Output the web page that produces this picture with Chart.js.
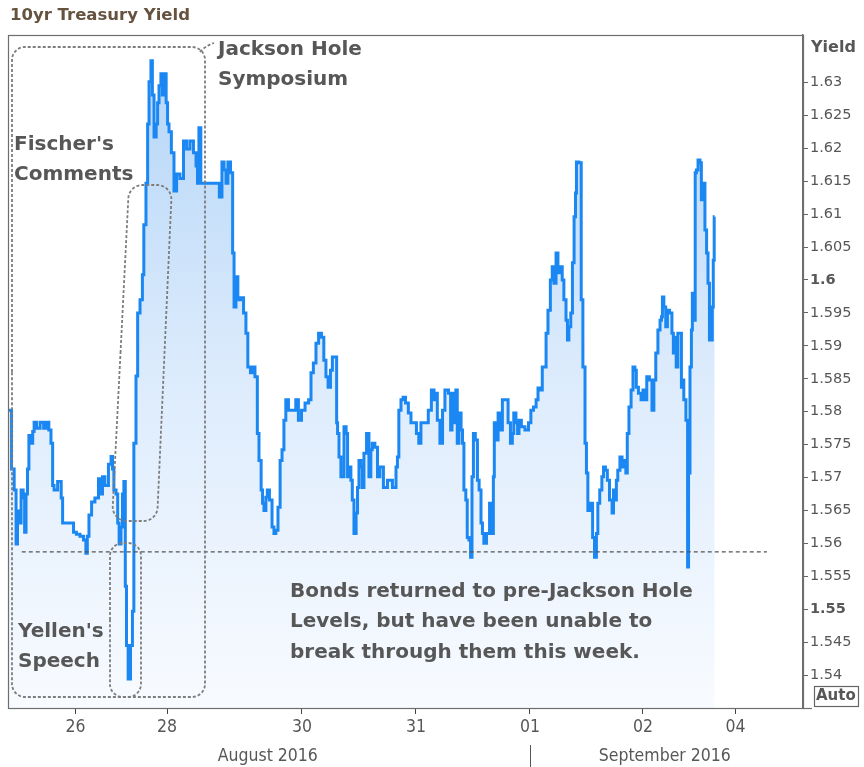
<!DOCTYPE html>
<html>
<head>
<meta charset="utf-8">
<script src="https://cdn.jsdelivr.net/npm/chart.js@4"></script>
<style>
    html, body { margin: 0; padding: 0; background: #fff; }
    #wrap { width: 864px; height: 767px; }
</style>
</head>
<body>
<div id="wrap"><canvas id="yieldChart" width="864" height="767"></canvas></div>
<script>
// trading hours since the first quote (Aug 25), and the 10yr yield at that moment
const hours = [
    0.0, 0.4, 1.1, 1.5, 1.9, 2.1, 2.5, 3.0, 3.4, 3.6, 4.0, 4.2, 4.6, 5.1, 5.3, 5.7, 6.3, 7.2, 7.8, 8.4,
    8.8, 9.3, 9.5, 9.9, 11.0, 11.4, 11.6, 12.4, 13.5, 14.1, 14.7, 15.6, 16.2, 16.6, 16.8, 17.3, 17.9, 18.7, 19.4, 19.8,
    20.0, 20.8, 21.5, 21.9, 22.1, 22.5, 23.0, 23.2, 23.6, 24.0, 24.2, 24.6, 24.8, 25.1, 25.5, 26.1, 26.3, 26.7, 27.2, 27.4,
    28.2, 28.4, 28.8, 29.3, 29.5, 29.9, 30.3, 30.5, 31.0, 31.4, 31.6, 32.0, 32.4, 32.6, 33.1, 33.5, 33.7, 34.1, 34.7, 35.2,
    35.8, 36.6, 37.3, 37.9, 38.7, 39.4, 39.8, 40.0, 40.4, 40.8, 42.5, 44.2, 44.8, 45.3, 45.7, 46.1, 46.5, 47.2, 47.4, 47.8,
    48.2, 48.6, 49.3, 49.9, 50.3, 50.7, 51.4, 51.6, 52.4, 52.6, 53.1, 53.5, 53.7, 54.1, 54.5, 54.7, 55.4, 55.8, 56.2, 56.6,
    57.1, 57.5, 57.9, 58.3, 58.7, 59.4, 60.4, 60.8, 61.5, 62.1, 63.0, 63.6, 64.0, 64.6, 65.1, 65.7, 66.3, 66.7, 67.2, 67.6,
    68.2, 68.4, 69.1, 69.3, 69.5, 69.9, 70.3, 70.5, 71.0, 71.4, 71.6, 72.0, 72.4, 72.6, 73.1, 73.5, 73.7, 74.1, 74.5, 74.7,
    75.2, 75.8, 76.2, 76.6, 76.8, 77.7, 77.9, 78.7, 79.4, 80.4, 81.5, 81.9, 82.1, 82.5, 83.0, 83.4, 84.0, 84.6, 85.1, 85.7,
    86.3, 86.7, 87.2, 88.2, 88.8, 89.5, 89.9, 90.3, 90.5, 91.4, 91.6, 92.4, 93.1, 93.3, 93.7, 94.1, 94.5, 94.7,
    95.2, 95.6, 95.8, 96.2, 96.6, 96.8, 97.3, 97.5, 97.9, 98.1, 98.7, 99.0, 99.4, 99.8, 100.0, 100.4, 101.1, 101.7, 102.1, 102.3,
    102.5, 103.0, 103.4, 104.0, 104.2, 105.1, 105.5, 106.1, 106.3, 106.7, 107.2, 107.4, 107.8, 108.4, 109.3, 109.9, 110.3, 111.0, 111.4, 111.8,
    112.4, 112.6, 113.1, 113.5, 113.9, 114.5, 114.7, 115.2, 115.6, 116.0, 116.6, 116.8, 117.3, 117.7, 117.9, 118.3, 118.7, 119.0, 119.4, 119.6,
    119.8, 120.6, 120.8, 121.3, 121.7, 121.9, 122.3, 123.0, 123.2, 123.8, 124.0, 124.4, 124.8, 125.3, 125.5, 126.1, 126.3, 127.0, 127.4, 127.6,
    128.0, 128.2, 128.6, 129.1, 129.5, 129.9, 130.3, 130.5, 131.0, 131.4, 131.8, 132.2, 132.4, 133.1, 133.5, 133.9, 134.3, 134.7, 135.4, 135.8,
    136.2, 136.6, 137.1, 137.5, 137.7, 137.9, 138.3, 138.7, 139.0, 139.6, 140.0, 140.2, 140.6, 140.8, 141.3, 141.7, 141.9, 142.1, 142.5, 143.0,
    143.2, 143.4, 143.8, 144.0, 144.2, 144.6, 144.8, 145.1, 145.5, 145.9, 146.1, 146.5, 147.0, 147.2, 147.6, 147.8, 148.2, 148.4, 148.6, 148.8
];
const yields = [
    1.5802, 1.5802, 1.5713, 1.5681, 1.5599, 1.5649, 1.5631, 1.5681, 1.5669, 1.5617, 1.5675, 1.5713, 1.5764, 1.5752, 1.5770, 1.5784, 1.5775, 1.5784, 1.5775, 1.5784,
    1.5772, 1.5752, 1.5688, 1.5681, 1.5694, 1.5669, 1.5631, 1.5631, 1.5631, 1.5617, 1.5614, 1.5611, 1.5605, 1.5585, 1.5611, 1.5643, 1.5663, 1.5669, 1.5698, 1.5675,
    1.5701, 1.5688, 1.5720, 1.5732, 1.5713, 1.5681, 1.5675, 1.5631, 1.5599, 1.5625, 1.5675, 1.5694, 1.5535, 1.5445, 1.5394, 1.5445, 1.5497, 1.5752, 1.5854, 1.5950,
    1.5970, 1.6008, 1.6084, 1.6147, 1.6237, 1.6301, 1.6333, 1.6281, 1.6217, 1.6237, 1.6269, 1.6295, 1.6313, 1.6281, 1.6313, 1.6269, 1.6237, 1.6225, 1.6193, 1.6135,
    1.6161, 1.6154, 1.6211, 1.6199, 1.6211, 1.6193, 1.6173, 1.6147, 1.6231, 1.6147, 1.6147, 1.6147, 1.6126, 1.6179, 1.6167, 1.6147, 1.6179, 1.6163, 1.6041, 1.5959,
    1.6005, 1.5970, 1.5973, 1.5950, 1.5919, 1.5868, 1.5859, 1.5868, 1.5853, 1.5767, 1.5726, 1.5681, 1.5661, 1.5650, 1.5670, 1.5681, 1.5666, 1.5625, 1.5615, 1.5620,
    1.5655, 1.5726, 1.5742, 1.5787, 1.5818, 1.5802, 1.5802, 1.5818, 1.5787, 1.5802, 1.5813, 1.5818, 1.5859, 1.5874, 1.5904, 1.5919, 1.5913, 1.5878, 1.5853, 1.5837,
    1.5863, 1.5883, 1.5883, 1.5783, 1.5767, 1.5731, 1.5701, 1.5701, 1.5777, 1.5767, 1.5701, 1.5716, 1.5696, 1.5666, 1.5615, 1.5646, 1.5685, 1.5726, 1.5716, 1.5685,
    1.5737, 1.5767, 1.5701, 1.5742, 1.5752, 1.5746, 1.5701, 1.5716, 1.5685, 1.5696, 1.5685, 1.5716, 1.5731, 1.5802, 1.5818, 1.5822, 1.5813, 1.5798, 1.5783, 1.5783,
    1.5767, 1.5752, 1.5783, 1.5783, 1.5802, 1.5833, 1.5818, 1.5828, 1.5787, 1.5752, 1.5802, 1.5833, 1.5828, 1.5772, 1.5828, 1.5783, 1.5833, 1.5752,
    1.5798, 1.5772, 1.5752, 1.5681, 1.5666, 1.5609, 1.5605, 1.5579, 1.5701, 1.5767, 1.5757, 1.5696, 1.5681, 1.5631, 1.5615, 1.5600, 1.5615, 1.5661, 1.5615, 1.5701,
    1.5783, 1.5757, 1.5798, 1.5772, 1.5818, 1.5818, 1.5783, 1.5752, 1.5767, 1.5798, 1.5783, 1.5767, 1.5787, 1.5777, 1.5772, 1.5783, 1.5802, 1.5807, 1.5818, 1.5836,
    1.5833, 1.5868, 1.5868, 1.5919, 1.5954, 1.6000, 1.6020, 1.5995, 1.6041, 1.6011, 1.6020, 1.6000, 1.5970, 1.5939, 1.5909, 1.5929, 1.5950, 1.6026, 1.6096, 1.6132,
    1.6179, 1.6178, 1.5970, 1.5868, 1.5752, 1.5707, 1.5650, 1.5661, 1.5609, 1.5579, 1.5615, 1.5661, 1.5681, 1.5701, 1.5716, 1.5711, 1.5696, 1.5666, 1.5646, 1.5681,
    1.5666, 1.5696, 1.5711, 1.5731, 1.5716, 1.5726, 1.5707, 1.5767, 1.5807, 1.5833, 1.5868, 1.5863, 1.5837, 1.5828, 1.5818, 1.5833, 1.5818, 1.5853, 1.5848, 1.5802,
    1.5848, 1.5889, 1.5924, 1.5939, 1.5944, 1.5974, 1.5959, 1.5929, 1.5954, 1.5950, 1.5919, 1.5889, 1.5913, 1.5868, 1.5919, 1.5919, 1.5837, 1.5848, 1.5818, 1.5787,
    1.5564, 1.5707, 1.5868, 1.5924, 1.5980, 1.5939, 1.6163, 1.6167, 1.6182, 1.6178, 1.6122, 1.6147, 1.6076, 1.6041, 1.5995, 1.5909, 1.5909, 1.5959, 1.6030, 1.6096
];

const dayTickHours = [14.2, 33.5, 61.9, 85.9, 109.9, 133.7, 153.2];
const dayTickLabels = ["26", "28", "30", "31", "01", "02", "04"];
const monthLabels = ["August 2016", "September 2016"];
const monthCenterHours = [54.7, 138.3];
const monthBreakHours = [109.9];
const yieldTicks = [1.54, 1.545, 1.55, 1.555, 1.56, 1.565, 1.57, 1.575, 1.58, 1.585, 1.59, 1.595,
                    1.6, 1.605, 1.61, 1.615, 1.62, 1.625, 1.63];
const boldTicks = [1.55, 1.6];
const preJacksonLevel = 1.5587;
const levelLineHours = [2.9, 159.8];

const GREY_TEXT = "#575757";
const DASH_GREY = "#7d7d7d";

function roundedPoly(ctx, pts, r) {
    ctx.beginPath();
    const n = pts.length;
    const start = [(pts[0][0] + pts[n - 1][0]) / 2, (pts[0][1] + pts[n - 1][1]) / 2];
    ctx.moveTo(start[0], start[1]);
    for (let i = 0; i < n; i++) {
        const p = pts[i];
        const q = pts[(i + 1) % n];
        ctx.arcTo(p[0], p[1], q[0], q[1], r);
    }
    ctx.closePath();
}

const overlayPlugin = {
    id: "overlay",
    afterDatasetsDraw(chart) {
        const { ctx, chartArea, scales } = chart;
        const x = scales.x, y = scales.y;

        // pre-Jackson Hole level
        ctx.save();
        ctx.strokeStyle = "#555";
        ctx.lineWidth = 1.3;
        ctx.setLineDash([4, 3]);
        ctx.beginPath();
        ctx.moveTo(x.getPixelForValue(levelLineHours[0]), y.getPixelForValue(preJacksonLevel));
        ctx.lineTo(x.getPixelForValue(levelLineHours[1]), y.getPixelForValue(preJacksonLevel));
        ctx.stroke();

        // callout boxes
        ctx.strokeStyle = DASH_GREY;
        ctx.lineWidth = 1.8;
        ctx.setLineDash([3, 2]);
        roundedPoly(ctx, [[12, 47], [205, 47], [205, 697], [12, 697]], 13);
        ctx.stroke();
        roundedPoly(ctx, [[110, 543], [141, 543], [141, 697], [110, 697]], 13);
        ctx.stroke();
        roundedPoly(ctx, [[129, 185], [172, 185], [157, 521], [112, 521]], 14);
        ctx.stroke();
        ctx.beginPath();
        ctx.moveTo(200, 52);
        ctx.quadraticCurveTo(205, 46, 214, 43);
        ctx.stroke();
        ctx.restore();

        // callout text
        ctx.save();
        ctx.fillStyle = GREY_TEXT;
        ctx.font = "bold 20px 'DejaVu Sans'";
        ctx.textBaseline = "middle";
        ctx.textAlign = "left";
        const notes = [
            ["Jackson Hole", 218, 50], ["Symposium", 218, 80],
            ["Fischer's", 14, 145], ["Comments", 14, 175],
            ["Yellen's", 18, 632], ["Speech", 18, 662],
            ["Bonds returned to pre-Jackson Hole", 290, 592],
            ["Levels, but have been unable to", 290, 622],
            ["break through them this week.", 290, 653]
        ];
        notes.forEach(([t, tx, ty]) => ctx.fillText(t, tx, ty));
        ctx.restore();

        // plot frame
        ctx.save();
        ctx.strokeStyle = "#6e6e6e";
        ctx.lineWidth = 1.2;
        ctx.strokeRect(chartArea.left + 0.5, chartArea.top + 0.5,
            chartArea.right - chartArea.left, chartArea.bottom - chartArea.top);
        ctx.restore();
    },
    afterDraw(chart) {
        const { ctx, chartArea, scales } = chart;
        const x = scales.x;
        ctx.save();
        // title
        ctx.fillStyle = "#65523f";
        ctx.font = "bold 16.5px 'DejaVu Sans'";
        ctx.textBaseline = "middle";
        ctx.textAlign = "left";
        ctx.fillText("10yr Treasury Yield", 10, 16);

        // axis title and auto badge
        ctx.fillStyle = GREY_TEXT;
        ctx.font = "bold 16px 'DejaVu Sans'";
        ctx.fillText("Yield", 811, 48);
        ctx.font = "bold 15px 'DejaVu Sans'";
        ctx.fillText("Auto", 816, 696);
        ctx.strokeStyle = "#666";
        ctx.lineWidth = 1.2;
        ctx.strokeRect(814.5, 686.5, 44, 20);

        // month row
        ctx.font = "17.5px 'DejaVu Sans Condensed'";
        ctx.textAlign = "center";
        ctx.fillStyle = GREY_TEXT;
        monthLabels.forEach((m, i) => ctx.fillText(m, x.getPixelForValue(monthCenterHours[i]), 756));
        ctx.strokeStyle = "#555";
        ctx.lineWidth = 1;
        monthBreakHours.forEach(h => {
            const bx = Math.round(x.getPixelForValue(h)) + 0.5;
            ctx.beginPath();
            ctx.moveTo(bx, 745);
            ctx.lineTo(bx, 767);
            ctx.stroke();
        });
        // axis base extends under the yield scale
        ctx.strokeStyle = "#6e6e6e";
        ctx.lineWidth = 1.2;
        ctx.beginPath();
        ctx.moveTo(chartArea.right, chartArea.bottom + 0.5);
        ctx.lineTo(812, chartArea.bottom + 0.5);
        ctx.stroke();
        ctx.restore();
    }
};

const canvas = document.getElementById("yieldChart");
const points = hours.map((h, i) => ({ x: h, y: yields[i] }));

new Chart(canvas.getContext("2d"), {
    type: "line",
    data: {
        datasets: [{
            label: "10yr Treasury Yield",
            data: points,
            borderColor: "#1a87f3",
            borderWidth: 3,
            stepped: "middle",
            pointRadius: 0,
            fill: "start",
            backgroundColor: (context) => {
                const { chart } = context;
                const area = chart.chartArea;
                if (!area) return "rgba(180,214,248,0.5)";
                const g = chart.ctx.createLinearGradient(0, area.top, 0, area.bottom);
                g.addColorStop(0, "#b2d4f7");
                g.addColorStop(0.5, "#dcebfc");
                g.addColorStop(1, "#f8fbff");
                return g;
            }
        }]
    },
    options: {
        responsive: false,
        animation: false,
        layout: { padding: { top: 35, left: 8, right: 0, bottom: 0 } },
        plugins: {
            legend: { display: false },
            tooltip: { enabled: false }
        },
        scales: {
            x: {
                type: "linear",
                min: 0,
                max: 167.4,
                afterFit: (scale) => { scale.height = 59; },
                afterBuildTicks: (scale) => {
                    scale.ticks = dayTickHours.map(v => ({ value: v }));
                },
                grid: { drawOnChartArea: false, drawTicks: true, tickLength: 6, color: "#444", lineWidth: 1 },
                border: { display: false },
                ticks: {
                    autoSkip: false,
                    maxRotation: 0,
                    padding: 3,
                    color: GREY_TEXT,
                    font: { family: "DejaVu Sans Condensed", size: 17.5 },
                    callback: (value, index) => dayTickLabels[index]
                }
            },
            y: {
                type: "linear",
                position: "right",
                min: 1.535,
                max: 1.6372,
                afterFit: (scale) => { scale.width = 61; },
                afterBuildTicks: (scale) => {
                    scale.ticks = yieldTicks.map(v => ({ value: v }));
                },
                grid: { drawOnChartArea: false, drawTicks: true, tickLength: 5, color: "#666", lineWidth: 1 },
                border: { display: true, color: "#6e6e6e", width: 1.5 },
                ticks: {
                    padding: 2,
                    color: GREY_TEXT,
                    font: (ctx) => ({
                        family: "DejaVu Sans",
                        size: 14.5,
                        weight: ctx.tick && boldTicks.includes(ctx.tick.value) ? "bold" : "normal"
                    }),
                    callback: (value) => String(value)
                }
            }
        }
    },
    plugins: [overlayPlugin]
});
</script>
</body>
</html>
